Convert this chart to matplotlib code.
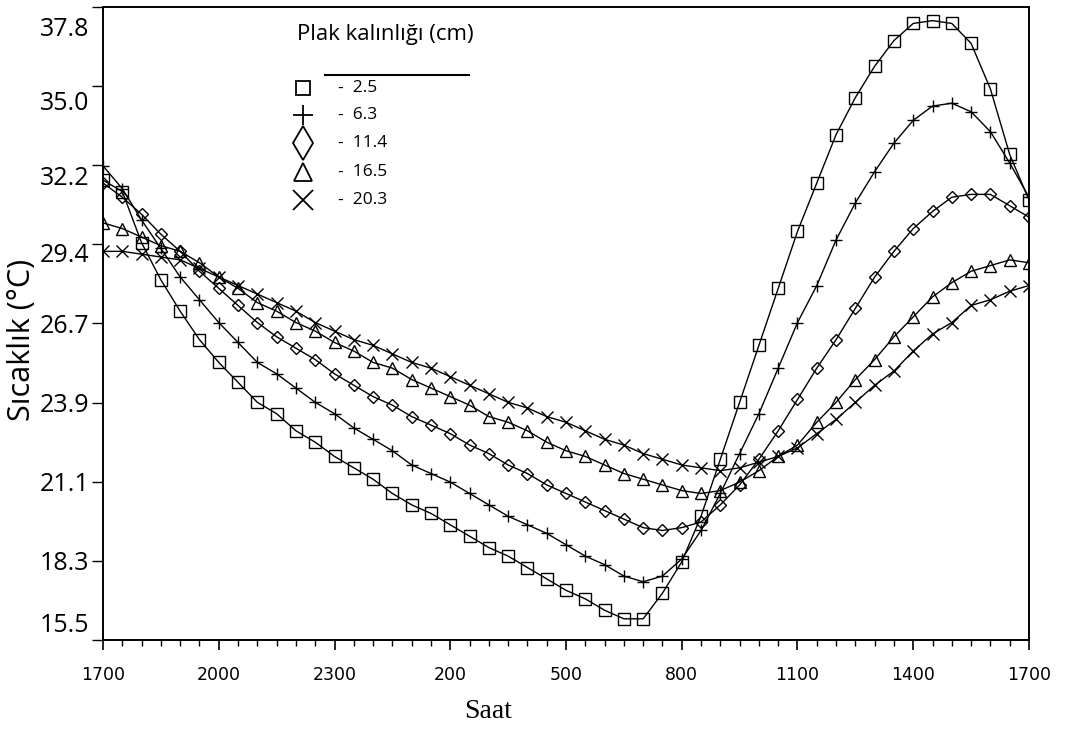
import numpy as np
import matplotlib
matplotlib.use("Agg")
import matplotlib.pyplot as plt
from matplotlib.transforms import ScaledTranslation

# readings every half hour, starting at 1700 and ending 1700 the next day
hours = np.arange(0, 24.5, 0.5)

# slab temperatures (°C) for each slab thickness
t_2_5 = [31.7, 31.3, 29.5, 28.2, 27.1, 26.1, 25.3, 24.6, 23.9, 23.5,
         22.9, 22.5, 22.0, 21.6, 21.2, 20.7, 20.3, 20.0, 19.6, 19.2,
         18.8, 18.5, 18.1, 17.7, 17.3, 17.0, 16.6, 16.3, 16.3, 17.2,
         18.3, 19.9, 21.9, 23.9, 25.9, 27.9, 29.9, 31.6, 33.3, 34.6,
         35.7, 36.6, 37.2, 37.3, 37.2, 36.5, 34.9, 32.6, 31.0]
t_6_3 = [32.2, 31.4, 30.3, 29.3, 28.3, 27.5, 26.7, 26.0, 25.3, 24.9,
         24.4, 23.9, 23.5, 23.0, 22.6, 22.2, 21.7, 21.4, 21.1, 20.7,
         20.3, 19.9, 19.6, 19.3, 18.9, 18.5, 18.2, 17.8, 17.6, 17.8,
         18.4, 19.4, 20.7, 22.1, 23.5, 25.1, 26.7, 28.0, 29.6, 30.9,
         32.0, 33.0, 33.8, 34.3, 34.4, 34.1, 33.4, 32.3, 31.1]
t_11_4 = [31.6, 31.1, 30.5, 29.8, 29.2, 28.5, 27.9, 27.3, 26.7, 26.2,
          25.8, 25.4, 24.9, 24.5, 24.1, 23.8, 23.4, 23.1, 22.8, 22.4,
          22.1, 21.7, 21.4, 21.0, 20.7, 20.4, 20.1, 19.8, 19.5, 19.4,
          19.5, 19.7, 20.3, 21.0, 21.9, 22.9, 24.0, 25.1, 26.1, 27.2,
          28.3, 29.2, 30.0, 30.6, 31.1, 31.2, 31.2, 30.8, 30.4]
t_16_5 = [30.2, 30.0, 29.7, 29.4, 29.2, 28.8, 28.3, 27.9, 27.4, 27.1,
          26.7, 26.4, 26.0, 25.7, 25.3, 25.1, 24.7, 24.4, 24.1, 23.8,
          23.4, 23.2, 22.9, 22.5, 22.2, 22.0, 21.7, 21.4, 21.2, 21.0,
          20.8, 20.7, 20.8, 21.1, 21.5, 22.0, 22.4, 23.2, 23.9, 24.7,
          25.4, 26.2, 26.9, 27.6, 28.1, 28.5, 28.7, 28.9, 28.8]
t_20_3 = [29.2, 29.2, 29.1, 29.0, 28.9, 28.6, 28.3, 28.0, 27.7, 27.4,
          27.1, 26.7, 26.4, 26.1, 25.9, 25.6, 25.3, 25.1, 24.8, 24.5,
          24.2, 23.9, 23.7, 23.4, 23.2, 22.9, 22.6, 22.4, 22.1, 21.9,
          21.7, 21.6, 21.5, 21.6, 21.8, 22.0, 22.3, 22.8, 23.3, 23.9,
          24.5, 25.0, 25.7, 26.3, 26.7, 27.3, 27.5, 27.8, 28.0]

thickness = ["2.5", "6.3", "11.4", "16.5", "20.3"]
series = [t_2_5, t_6_3, t_11_4, t_16_5, t_20_3]

x_ticks = [0, 3, 6, 9, 12, 15, 18, 21, 24]
x_tick_labels = ["1700", "2000", "2300", "200", "500", "800", "1100", "1400", "1700"]
y_ticks_f = [60, 65, 70, 75, 80, 85, 90, 95, 100]   # original axis was in °F
y_tick_labels = ["15.5", "18.3", "21.1", "23.9", "26.7", "29.4", "32.2", "35.0", "37.8"]

markers = ["s", "+", "D", "^", "x"]
msizes = [9, 9, 6, 9, 9]
leg_markers = ["s", "+", "d", "^", "x"]
leg_sizes = [10, 15, 17, 13, 15]

fig = plt.figure(figsize=(10.66, 7.31), dpi=100)
ax = fig.add_axes([103 / 1066, 1 - 640 / 731, 926 / 1066, 633 / 731])

for vals, m, ms in zip(series, markers, msizes):
    ax.plot(hours, vals, color="black", lw=1.0, marker=m, ms=ms,
            mfc="none", mec="black", mew=1.0)

y_ticks = [(f - 32) * 5 / 9 for f in y_ticks_f]
ax.set_xlim(0, 24)
ax.set_ylim(y_ticks[0], y_ticks[-1])
ax.set_xticks(x_ticks)
ax.set_xticklabels(x_tick_labels, fontsize=12.5, family="DejaVu Sans")
ax.set_xticks(hours, minor=True)
ax.set_yticks(y_ticks)
ax.set_yticklabels(y_tick_labels, fontsize=18, family="Open Sans")

ax.tick_params(axis="x", which="major", direction="out", length=7, width=1.2, pad=12)
ax.tick_params(axis="x", which="minor", direction="out", length=4, width=1.0)
ax.tick_params(axis="y", which="major", direction="out", length=8, width=1.0, pad=2)
for s in ax.spines.values():
    s.set_linewidth(1.4)

# the edited labels sit a little off their ticks at the top and bottom
shifts = [17, 0, 0, 0, 0, -8, -10, -14, -19]
for lab, dy in zip(ax.get_yticklabels(), shifts):
    lab.set_transform(lab.get_transform() + ScaledTranslation(0, dy / 100, fig.dpi_scale_trans))

# legend block drawn by hand, as in the original figure
ax.text(0.210, 0.956, "Plak kalınlığı (cm)", transform=ax.transAxes,
        fontsize=16, family="Open Sans", ha="left", va="center")
ax.plot([0.240, 0.395], [0.893, 0.893], transform=ax.transAxes,
        color="black", lw=1.5, clip_on=False)
rows = [0.872, 0.829, 0.785, 0.739, 0.695]
for t, m, ms, ry in zip(thickness, leg_markers, leg_sizes, rows):
    ax.plot([0.216], [ry], transform=ax.transAxes, marker=m, ms=ms,
            mfc="none", mec="black", mew=1.3, ls="none", clip_on=False)
    ax.text(0.254, ry, "-  " + t, transform=ax.transAxes,
            fontsize=12.5, family="Open Sans", ha="left", va="center")

fig.text(22 / 1066, 1 - 340 / 731, "Sıcaklık (°C)", rotation=90,
         fontsize=22, family="Open Sans", ha="center", va="center")
fig.text(488 / 1066, 1 - 712 / 731, "Saat", fontsize=20,
         family="Liberation Serif", ha="center", va="center")

fig.savefig("out.png", dpi=100)
